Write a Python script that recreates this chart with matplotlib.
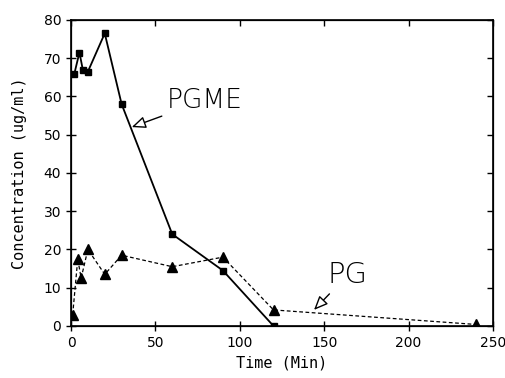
import matplotlib
matplotlib.use("Agg")
import matplotlib.pyplot as plt

# PGME concentration (squares, solid line)
pgme_time = [2, 5, 7, 10, 20, 30, 60, 90, 120]
pgme_conc = [66, 71.5, 67, 66.5, 76.5, 58, 24, 14.5, 0]

# PG concentration (triangles, dashed line)
pg_time = [1, 4, 6, 10, 20, 30, 60, 90, 120, 240]
pg_conc = [3, 17.5, 12.5, 20, 13.5, 18.5, 15.5, 18, 4.2, 0.4]

x_ticks = [0, 50, 100, 150, 200, 250]
y_ticks = [0, 10, 20, 30, 40, 50, 60, 70, 80]

plt.rcParams['font.family'] = 'DejaVu Sans'

fig = plt.figure(figsize=(5.05, 3.78), dpi=100)
ax = fig.add_axes([0.1406, 0.1376, 0.8354, 0.8095])

ax.plot(pgme_time, pgme_conc, '-', color='black', lw=1.3,
        marker='s', markersize=5)
ax.plot(pg_time, pg_conc, color='black', lw=0.9, linestyle=(0, (3, 2)),
        marker='^', markersize=7.5)

ax.set_xlim(0, 250)
ax.set_ylim(0, 80)
ax.set_xticks(x_ticks)
ax.set_yticks(y_ticks)
ax.tick_params(axis='both', direction='inout', length=7, width=1,
               labelsize=10)
for s in ax.spines.values():
    s.set_linewidth(1.2)

# inward ticks on the top and right sides
axr = ax.twinx()
axr.set_ylim(0, 80)
axr.set_yticks(y_ticks)
axr.tick_params(direction='in', length=4, width=1, labelright=False)
axt = ax.twiny()
axt.set_xlim(0, 250)
axt.set_xticks(x_ticks)
axt.tick_params(direction='in', length=4, width=1, labeltop=False)

ax.set_xlabel("Time (Min)", fontsize=11, family='DejaVu Sans Mono', labelpad=4)
ax.set_ylabel("Concentration (ug/ml)", fontsize=11, family='DejaVu Sans Mono', labelpad=12)

arrow = dict(arrowstyle='-|>,head_length=0.7,head_width=0.3',
             fc='white', ec='black', lw=1.0, mutation_scale=12,
             shrinkA=2, shrinkB=0)
ax.annotate("PGME", xy=(36, 52), xytext=(57, 59),
            fontsize=19, fontweight='light', va='center', ha='left',
            arrowprops=arrow)
ax.annotate("PG", xy=(144, 4.2), xytext=(152, 13.3),
            fontsize=21, fontweight='light', va='center', ha='left',
            arrowprops=arrow)

fig.savefig("out.png", dpi=100)
